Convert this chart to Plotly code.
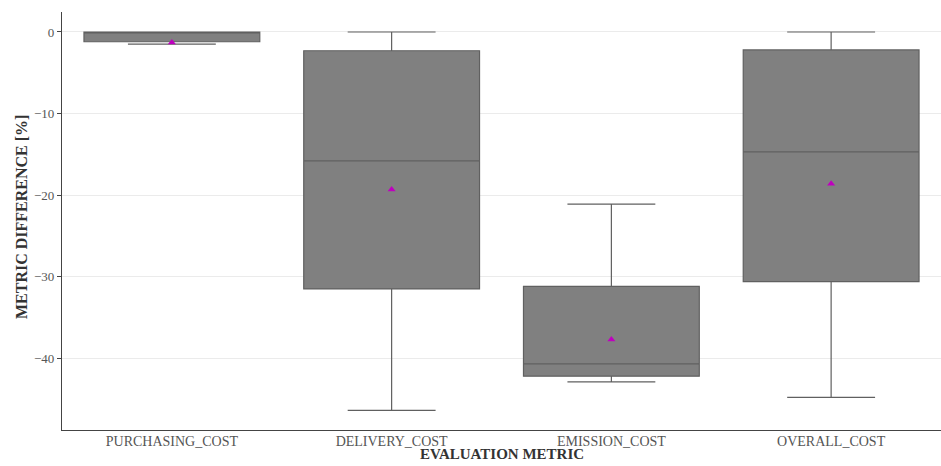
import plotly.graph_objects as go

categories = ["PURCHASING_COST", "DELIVERY_COST", "EMISSION_COST", "OVERALL_COST"]
q1 = [-1.2, -31.5, -42.2, -30.6]
median = [0.0, -15.8, -40.7, -14.7]
q3 = [0.0, -2.3, -31.2, -2.2]
lowerfence = [-1.5, -46.4, -42.9, -44.8]
upperfence = [0.0, 0.0, -21.1, 0.0]
means = [-1.3, -19.3, -37.7, -18.6]
y_ticks = [0, -10, -20, -30, -40]
y_ticktext = ["0", "−10", "−20", "−30", "−40"]

FONT = "Liberation Serif"

fig = go.Figure()
fig.add_trace(go.Box(
    x=categories, q1=q1, median=median, q3=q3,
    lowerfence=lowerfence, upperfence=upperfence,
    fillcolor="#808080", line=dict(color="#606060", width=1.2),
    width=0.8, whiskerwidth=0.5, boxpoints=False, showlegend=False,
))
fig.add_trace(go.Scatter(
    x=categories, y=means, mode="markers",
    marker=dict(symbol="triangle-up", size=7, color="#bf00bf"),
    showlegend=False,
))

fig.update_layout(
    width=941, height=466,
    margin=dict(l=62, r=0, t=12, b=36),
    plot_bgcolor="white", paper_bgcolor="white",
    font=dict(family=FONT, color="#444444", size=12),
    annotations=[
        dict(text="<b>EVALUATION METRIC</b>", xref="paper", yref="paper",
             x=0.5, y=-24 / 418, xanchor="center", yanchor="middle", showarrow=False,
             font=dict(size=15, family=FONT, color="#333333")),
        dict(text="<b>METRIC DIFFERENCE [%]</b>", xref="paper", yref="paper",
             x=-40 / 879, y=213 / 418, xanchor="center", yanchor="middle", showarrow=False,
             textangle=-90, font=dict(size=16, family=FONT, color="#333333")),
    ],
)
fig.update_xaxes(
    type="category", showgrid=False, showline=True, linecolor="#444444", linewidth=1.2,
    ticks="", tickfont=dict(size=14, family=FONT, color="#555555"), ticklabelstandoff=-2,
    range=[-0.5, 3.5], automargin=False,
)
fig.update_yaxes(
    range=[-48.8, 2.45], tickvals=y_ticks, ticktext=y_ticktext,
    showgrid=True, gridcolor="#ebebeb", gridwidth=1, zeroline=False,
    showline=True, linecolor="#444444", linewidth=1.2,
    ticks="outside", ticklen=4, tickcolor="#444444",
    tickfont=dict(size=13, family=FONT, color="#555555"), automargin=False,
)

fig.write_html(
    "out.html",
    config={"displayModeBar": False},
    post_script="document.body.style.margin='0';document.body.style.padding='0';window.dispatchEvent(new Event('resize'));",
)
